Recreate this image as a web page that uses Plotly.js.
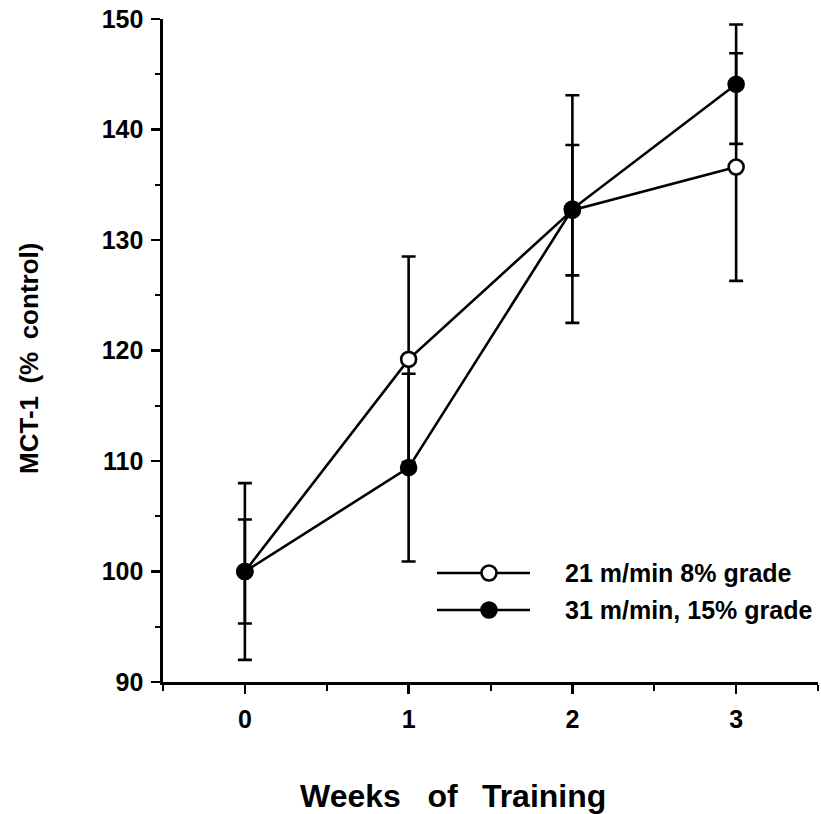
<!DOCTYPE html>
<html><head><meta charset="utf-8">
<script src="https://cdn.plot.ly/plotly-3.0.1.min.js"></script>
<style>html,body{margin:0;padding:0;background:#fff}#chart{width:821px;height:814px}</style>
</head><body><div id="chart"></div>
<script>
const weeks = [0, 1, 2, 3];
const tickLabels = ['0', '1', '2', '3'];
const name21 = '21 m/min 8% grade';
const name31 = '31 m/min, 15% grade';
const mct21 = [100, 119.2, 132.7, 136.6];
const err21 = [4.7, 9.3, 5.9, 10.3];
const mct31 = [100, 109.4, 132.8, 144.1];
const err31 = [8.0, 8.5, 10.3, 5.4];

const F = '"Liberation Sans", Arial, Helvetica, sans-serif';
function tr(name, y, e, fill) {
  return {
    type: 'scatter', mode: 'lines+markers', name: name, x: weeks, y: y,
    line: {color: '#000', width: 2.6},
    marker: {size: 15, color: fill, line: {color: '#000', width: 2.6}},
    error_y: {type: 'data', array: e, visible: true, color: '#000', thickness: 2.6, width: 7},
    cliponaxis: false, showlegend: false
  };
}
const data = [tr(name21, mct21, err21, '#fff'), tr(name31, mct31, err31, '#000')];

// manual legend (long line samples like the original figure)
const legRows = [{name: name21, fill: '#fff', y: 0.1644}, {name: name31, fill: '#000', y: 0.1086}];
const shapes = [], annotations = [];
legRows.forEach(r => {
  shapes.push({type: 'line', xref: 'paper', yref: 'paper', x0: 0.4183, x1: 0.5603, y0: r.y, y1: r.y,
    line: {color: '#000', width: 2.6}});
  shapes.push({type: 'circle', xref: 'paper', yref: 'paper', xsizemode: 'pixel', ysizemode: 'pixel',
    xanchor: 0.4977, yanchor: r.y, x0: -7.5, x1: 7.5, y0: -7.5, y1: 7.5,
    fillcolor: r.fill, line: {color: '#000', width: 2.6}});
  annotations.push({xref: 'paper', yref: 'paper', x: 0.6107, y: r.y, xanchor: 'left', yanchor: 'middle',
    showarrow: false, text: r.name, font: {family: F, size: 25, color: '#000', weight: 'bold'}});
});
annotations.push(
  {xref: 'paper', yref: 'paper', x: 0.4427, y: -0.172, xanchor: 'center', yanchor: 'middle', showarrow: false,
    text: 'Weeks\u00a0\u00a0\u00a0of\u00a0\u00a0\u2009Training', font: {family: F, size: 32, color: '#000', weight: 'bold'}},
  {xref: 'paper', yref: 'paper', x: -0.2046, y: 0.4887, xanchor: 'center', yanchor: 'middle', showarrow: false,
    textangle: -90, text: 'MCT-1\u00a0\u2009(%\u00a0\u2009control)', font: {family: F, size: 26, color: '#000', weight: 'bold'}}
);

const layout = {
  width: 821, height: 814,
  margin: {l: 163, r: 3, t: 19, b: 132},
  paper_bgcolor: '#fff', plot_bgcolor: '#fff',
  showlegend: false,
  font: {family: F, color: '#000'},
  xaxis: {range: [-0.5, 3.5], tickvals: weeks, ticktext: tickLabels, showgrid: false, zeroline: false,
    showline: true, linewidth: 2.6, linecolor: '#000', ticks: 'outside', ticklen: 9, tickwidth: 2.6, tickcolor: '#000',
    ticklabelstandoff: 4,
    minor: {dtick: 0.5, tick0: 0, ticks: 'outside', ticklen: 6, tickwidth: 2, tickcolor: '#000', showgrid: false},
    tickfont: {family: F, size: 25, color: '#000', weight: 'bold'}},
  yaxis: {range: [90, 150], dtick: 10, showgrid: false, zeroline: false,
    showline: true, linewidth: 2.6, linecolor: '#000', ticks: 'outside', ticklen: 9, tickwidth: 2.6, tickcolor: '#000',
    ticklabelstandoff: 3,
    minor: {dtick: 5, ticks: 'outside', ticklen: 5, tickwidth: 2, tickcolor: '#000', showgrid: false},
    tickfont: {family: F, size: 25, color: '#000', weight: 'bold'}},
  shapes: shapes,
  annotations: annotations
};
Plotly.newPlot('chart', data, layout, {displayModeBar: false, staticPlot: true});
</script></body></html>
